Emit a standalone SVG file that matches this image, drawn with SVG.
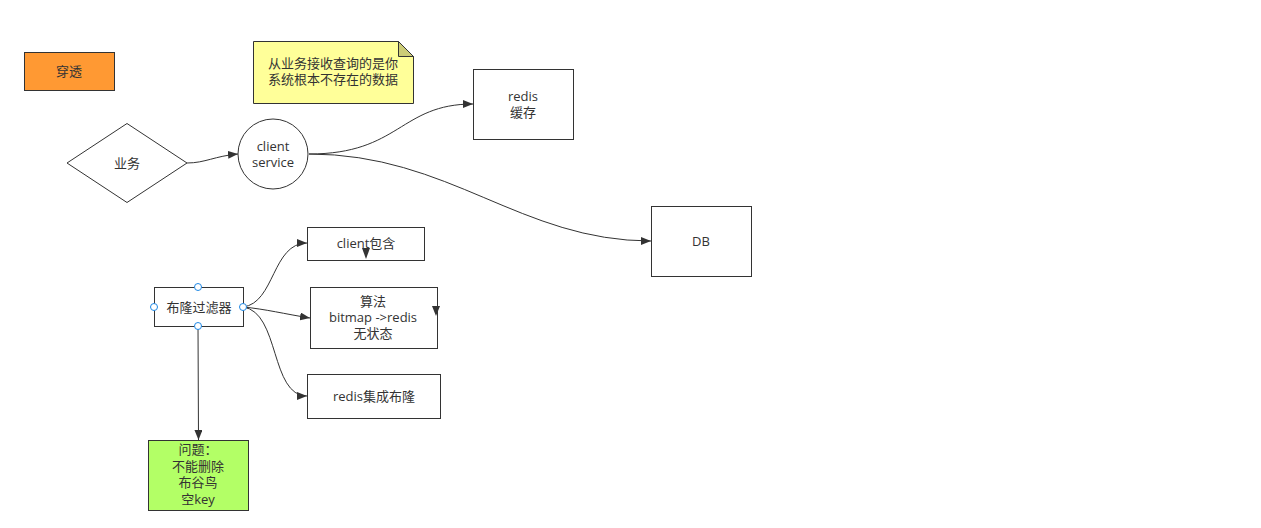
<svg xmlns="http://www.w3.org/2000/svg" width="1261" height="528" viewBox="0 0 1261 528">
<style>
text{font-family:"Open Sans","Noto Sans CJK SC",sans-serif;font-size:13px;fill:#333;text-anchor:middle}
.n{fill:#fff;stroke:#333;stroke-width:1}
.e{fill:none;stroke:#333;stroke-width:1;marker-end:url(#a)}
.h{fill:#fff;stroke:#1e88e5;stroke-width:1}
</style>
<defs>
<marker id="a" viewBox="0 0 10 8" refX="10" refY="4" markerWidth="10" markerHeight="8" markerUnits="userSpaceOnUse" orient="auto"><path d="M0,0L10,4L0,8z" fill="#333"/></marker>
</defs>
<rect width="1261" height="528" fill="#fff"/>
<g id="chuantou"><rect x="24.5" y="52.5" width="90" height="38" fill="#ff9933" stroke="#333"/><text x="69" y="76">穿透</text></g>
<g id="note"><path d="M253.5,41.5H398.5L413.5,56.5V103.5H253.5Z" fill="#ffff99" stroke="#333"/><path d="M398.5,41.5V56.5H413.5Z" fill="#cccc77" stroke="#333"/><text x="333" y="68">从业务接收查询的是你</text><text x="333" y="84">系统根本不存在的数据</text></g>
<g id="yewu"><path class="n" d="M127,123.5L187,163L127,202.5L67,163Z"/><text x="127" y="168">业务</text></g>
<g id="client"><circle class="n" cx="273" cy="154" r="35"/><text x="273" y="151">client</text><text x="273" y="167">service</text></g>
<g id="redis"><rect class="n" x="473.5" y="69.5" width="100" height="70"/><text x="523" y="101">redis</text><text x="523" y="117">缓存</text></g>
<g id="db"><rect class="n" x="651.5" y="206.5" width="100" height="70"/><text x="701" y="246">DB</text></g>
<g id="bloom"><rect class="n" x="154.5" y="287.5" width="89" height="39"/><text x="199" y="312">布隆过滤器</text></g>
<g id="clientinc"><rect class="n" x="307.5" y="227.5" width="117" height="33"/><text x="366" y="248">client包含</text><path d="M362,248L370,248L366,259Z" fill="#333"/></g>
<g id="algo"><rect class="n" x="310.5" y="287.5" width="127" height="61"/><text x="373" y="306">算法</text><text x="373" y="322">bitmap -&gt;redis</text><text x="373" y="338">无状态</text><path d="M432,306L440,306L436,316Z" fill="#333"/></g>
<g id="redisbloom"><rect class="n" x="307.5" y="374.5" width="133" height="44"/><text x="374" y="401">redis集成布隆</text></g>
<g id="problem"><rect x="148.5" y="440.5" width="100" height="70" fill="#b3ff66" stroke="#333"/><text x="198" y="454">问题：</text><text x="198" y="471">不能删除</text><text x="198" y="487">布谷鸟</text><text x="198" y="504">空key</text></g>
<g id="connectors">
<path class="e" d="M187,163C205,163 215,156 238,154"/>
<path class="e" d="M309,154C400,154 400,104 473,104"/>
<path class="e" d="M309,154C450,154 520,241 651,241"/>
<path class="e" d="M243,307C275,303 272,243 307,243"/>
<path class="e" d="M243,307C265,309 285,314 310,318"/>
<path class="e" d="M243,307C280,312 270,396 307,396"/>
<path class="e" d="M198,326L198.5,440"/>
</g>
<g id="handles"><circle class="h" cx="198" cy="287" r="3.5"/><circle class="h" cx="154" cy="307" r="3.5"/><circle class="h" cx="243" cy="307" r="3.5"/><circle class="h" cx="198" cy="326" r="3.5"/></g>
</svg>
